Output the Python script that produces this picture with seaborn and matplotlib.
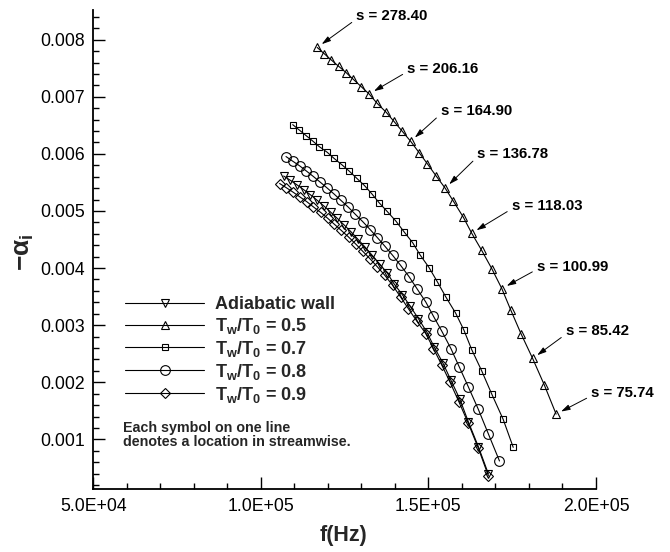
import matplotlib
matplotlib.use("Agg")
import matplotlib.pyplot as plt
import numpy as np
import pandas as pd
import seaborn as sns
from matplotlib.ticker import MultipleLocator, FuncFormatter

# Spatial growth rate -alpha_i versus frequency for several wall temperatures.
f_adiabatic = [106800, 108800, 110800, 112800, 114800, 116800, 118800, 120800,
               122800, 124900, 127000, 129000, 131100, 133200, 135500, 137700,
               139700, 142200, 144500, 147000, 149500, 151700, 154300, 156700,
               159400, 161900, 164900, 167900]
a_adiabatic = [0.005612, 0.005537, 0.005456, 0.005372, 0.005283, 0.005187, 0.005087,
               0.004981, 0.004871, 0.004752, 0.004629, 0.004502, 0.004367, 0.004224,
               0.004068, 0.003913, 0.003727, 0.003535, 0.003336, 0.003115, 0.002881,
               0.002619, 0.002339, 0.002037, 0.001699, 0.001308, 0.000871, 0.000393]

f_05 = [116800, 118900, 121000, 123200, 125400, 127600, 129900, 132300, 134700,
        137300, 139700, 142200, 144700, 147200, 149700, 152200, 155000, 157400,
        160400, 162900, 165900, 168900, 171900, 174600, 177600, 181100, 184600,
        188100]
a_05 = [0.007864, 0.007755, 0.007645, 0.007535, 0.007425, 0.007305, 0.007180,
        0.007049, 0.006885, 0.006734, 0.006570, 0.006395, 0.006220, 0.006023,
        0.005825, 0.005621, 0.005399, 0.005175, 0.004892, 0.004612, 0.004309,
        0.003990, 0.003640, 0.003260, 0.002853, 0.002416, 0.001949, 0.001442]

f_07 = [109500, 111500, 113500, 115500, 117400, 119800, 121800, 124100, 126400,
        128600, 130900, 133100, 135300, 137700, 140300, 142800, 145300, 147500,
        150200, 152700, 155200, 158100, 160600, 162900, 165900, 168900, 172300,
        175300]
a_07 = [0.006512, 0.006416, 0.006320, 0.006224, 0.006128, 0.006028, 0.005923,
        0.005813, 0.005696, 0.005573, 0.005446, 0.005301, 0.005143, 0.004991,
        0.004822, 0.004629, 0.004444, 0.004231, 0.004007, 0.003755, 0.003493,
        0.003213, 0.002911, 0.002573, 0.002199, 0.001792, 0.001350, 0.000860]

f_08 = [107500, 109500, 111600, 113600, 115600, 117600, 119700, 121800, 123900,
        126100, 128200, 130400, 132600, 134800, 137000, 139300, 141700, 144300,
        146700, 149200, 151500, 154000, 156700, 159200, 161900, 164900, 167900,
        171200]
a_08 = [0.005953, 0.005872, 0.005789, 0.005699, 0.005607, 0.005510, 0.005406,
        0.005299, 0.005185, 0.005066, 0.004941, 0.004813, 0.004675, 0.004531,
        0.004383, 0.004224, 0.004047, 0.003843, 0.003628, 0.003406, 0.003156,
        0.002893, 0.002591, 0.002269, 0.001920, 0.001524, 0.001093, 0.000621]

f_09 = [105600, 107600, 109600, 111600, 113700, 115700, 117800, 119900, 121900,
        124000, 126200, 128300, 130400, 132600, 134800, 137000, 139300, 141700,
        144000, 146500, 149200, 151500, 154000, 156400, 159100, 161900, 164900,
        167900]
a_09 = [0.005481, 0.005407, 0.005330, 0.005248, 0.005163, 0.005070, 0.004976,
        0.004874, 0.004769, 0.004659, 0.004542, 0.004421, 0.004294, 0.004161,
        0.004019, 0.003872, 0.003698, 0.003493, 0.003290, 0.003073, 0.002853,
        0.002591, 0.002299, 0.002007, 0.001657, 0.001280, 0.000843, 0.000358]

series_labels = ["Adiabatic wall",
                 r"$\mathbf{T_w/T_0}$ = 0.5",
                 r"$\mathbf{T_w/T_0}$ = 0.7",
                 r"$\mathbf{T_w/T_0}$ = 0.8",
                 r"$\mathbf{T_w/T_0}$ = 0.9"]

# streamwise stations marked along the T_w/T_0 = 0.5 curve
s_values = [278.40, 206.16, 164.90, 136.78, 118.03, 100.99, 85.42, 75.74]
s_point_index = [0, 7, 12, 16, 19, 22, 25, 27]

x_ticks = [50000, 100000, 150000, 200000]
y_ticks = [0.001, 0.002, 0.003, 0.004, 0.005, 0.006, 0.007, 0.008]

sns.set_theme(style="ticks")
plt.rcParams["font.family"] = ["Liberation Sans", "DejaVu Sans"]
plt.rcParams["mathtext.fontset"] = "custom"
plt.rcParams["mathtext.rm"] = "Liberation Sans"
plt.rcParams["mathtext.it"] = "Liberation Sans:italic"
plt.rcParams["mathtext.bf"] = "Liberation Sans:bold"

fig = plt.figure(figsize=(6.7, 5.52), dpi=100)
W, H = 670, 552
ax = fig.add_axes([93.3 / W, 1 - 489.3 / H, (596 - 93.3) / W, (489.3 - 10) / H])

series = [
    (f_adiabatic, a_adiabatic, "v", 6.0),
    (f_05, a_05, "^", 6.0),
    (f_07, a_07, "s", 5.0),
    (f_08, a_08, "o", 7.0),
    (f_09, a_09, "D", 4.6),
]
for (fx, ay, mk, ms), lab in zip(series, series_labels):
    df = pd.DataFrame({"f": fx, "a": ay})
    sns.lineplot(data=df, x="f", y="a", ax=ax, color="black", lw=0.8,
                 marker=mk, ms=ms, mfc="none", mec="black", mew=0.8,
                 label=lab, sort=False, estimator=None)

ax.set_xlim(50000, 200000)
ax.set_ylim(0.000125, 0.00852)
ax.xaxis.set_major_locator(plt.FixedLocator(x_ticks))
ax.xaxis.set_minor_locator(MultipleLocator(10000))
ax.yaxis.set_major_locator(plt.FixedLocator(y_ticks))
ax.yaxis.set_minor_locator(MultipleLocator(0.0002))
ax.xaxis.set_major_formatter(FuncFormatter(lambda v, p: f"{v:.1E}"))
ax.yaxis.set_major_formatter(FuncFormatter(lambda v, p: f"{v:.3f}"))
ax.tick_params(which="major", direction="in", length=8.5, width=1.0,
               labelsize=12.7, pad=6, color="black", labelcolor="black")
ax.tick_params(which="minor", direction="in", length=4.5, width=1.0, color="black")
for side in ("top", "right"):
    ax.spines[side].set_visible(False)
for side in ("left", "bottom"):
    ax.spines[side].set_linewidth(1.3)
    ax.spines[side].set_color("black")
ax.set_xlabel("")
ax.set_ylabel("")

# station annotations with arrows
text_offsets = [(39, 31), (38, 25), (30, 30), (32, 34), (40, 27), (35, 22), (33, 27), (35, 21)]
for s, idx, off in zip(s_values, s_point_index, text_offsets):
    ax.annotate(f"s = {s:.2f}", xy=(f_05[idx], a_05[idx]), xytext=off,
                textcoords="offset pixels", ha="left", va="center",
                fontsize=10.8, fontweight="bold", color="black",
                arrowprops=dict(arrowstyle="-|>,head_length=0.5,head_width=0.15",
                                color="black", lw=0.7, shrinkA=1, shrinkB=4,
                                relpos=(0, 0.3)))

leg = ax.legend(loc="upper left", bbox_to_anchor=(125 / W, 1 - 296 / H),
                bbox_transform=fig.transFigure, frameon=False, borderpad=0,
                borderaxespad=0, handlelength=4.4, handletextpad=0.6,
                labelspacing=0.16, prop={"weight": "bold", "size": 13})

fig.text(123 / W, 1 - 435 / H, "Each symbol on one line\ndenotes a location in streamwise.",
         ha="left", va="center", fontsize=10.3, fontweight="bold", linespacing=1.0)

fig.text(344 / W, 1 - 536 / H, "f(Hz)", ha="center", va="center",
         fontsize=15.5, fontweight="bold")
fig.text(24 / W, 1 - 252 / H, r"$\mathbf{-\alpha_i}$", ha="center", va="center",
         rotation=90, fontsize=19)

fig.savefig("out.png", dpi=100, facecolor="white")
